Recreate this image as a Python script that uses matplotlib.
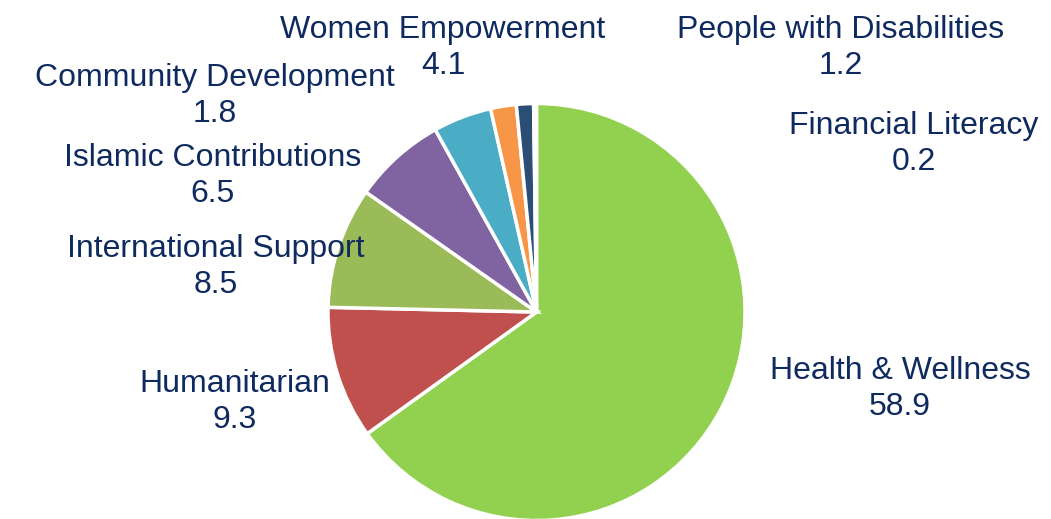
import matplotlib.pyplot as plt

categories = ["Health & Wellness", "Humanitarian", "International Support",
              "Islamic Contributions", "Women Empowerment", "Community Development",
              "People with Disabilities", "Financial Literacy"]
values = [58.9, 9.3, 8.5, 6.5, 4.1, 1.8, 1.2, 0.2]

colors = ["#92D050", "#C0504D", "#9BBB59", "#8064A2", "#4BACC6", "#F79646",
          "#2C4D75", "#FFFFFF"]
# label centres in pixels (top-left origin)
label_pos = [(900, 389), (235, 402), (216, 267), (213, 176), (443, 48),
             (215, 96), (841, 48), (914, 144)]

plt.rcParams['font.family'] = ['Liberation Sans', 'DejaVu Sans']
W, H = 1051, 519
fig = plt.figure(figsize=(W / 100, H / 100), dpi=100)
ax = fig.add_axes([0, 0, 1, 1])
ax.pie(values, colors=colors, startangle=90, counterclock=False,
       center=(536.5, H - 312), radius=208.5,
       wedgeprops=dict(edgecolor="white", linewidth=2.5))
for name, v, (x, y) in zip(categories, values, label_pos):
    ax.text(x, H - y, f"{name}\n{v}", ha="center", va="center",
            multialignment="center", fontsize=23, color="#0F2A5F",
            linespacing=1.28)
ax.set_xlim(0, W)
ax.set_ylim(0, H)
ax.set_aspect("equal")
ax.axis("off")
fig.savefig("out.png", dpi=100)
